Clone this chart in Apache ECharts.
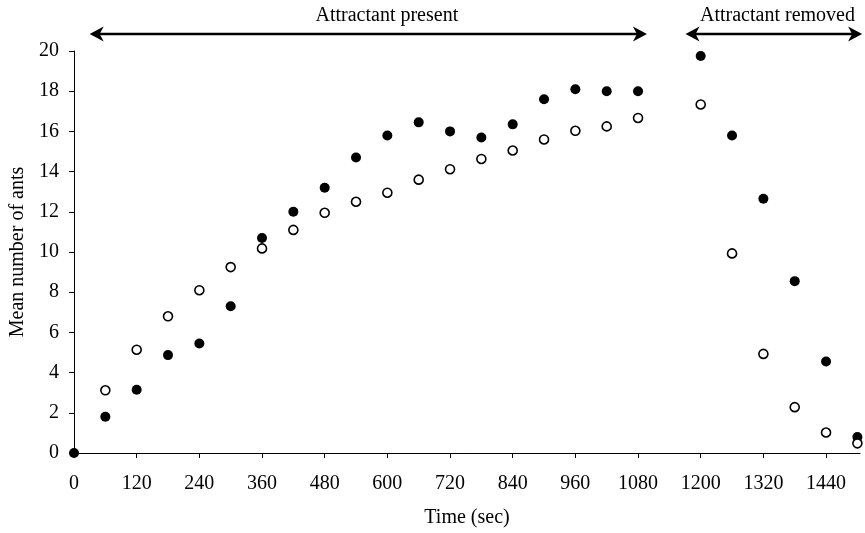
<!DOCTYPE html>
<html>
<head>
<meta charset="utf-8">
<script src="https://cdn.jsdelivr.net/npm/echarts@6/dist/echarts.min.js"></script>
<style>
  html, body { margin: 0; padding: 0; background: #fff; }
  #chart { width: 865px; height: 533px; }
</style>
</head>
<body>
<div id="chart"></div>
<script>
// time (sec) of each observation
const closedTimes = [0, 60, 120, 180, 240, 300, 360, 420, 480, 540, 600, 660, 720, 780, 840, 900, 960, 1020, 1080,
  1200, 1260, 1320, 1380, 1440, 1500];
const closedVals = [0, 1.8, 3.15, 4.87, 5.45, 7.3, 10.7, 12.0, 13.2, 14.7, 15.8, 16.45, 16.0, 15.7, 16.35, 17.6, 18.1, 18.0, 18.0,
  19.75, 15.8, 12.65, 8.55, 4.55, 0.8];
const openTimes = [60, 120, 180, 240, 300, 360, 420, 480, 540, 600, 660, 720, 780, 840, 900, 960, 1020, 1080,
  1200, 1260, 1320, 1380, 1440, 1500];
const openVals = [3.12, 5.14, 6.8, 8.1, 9.25, 10.18, 11.1, 11.95, 12.5, 12.95, 13.6, 14.12, 14.63, 15.05, 15.6, 16.03, 16.25, 16.67,
  17.34, 9.93, 4.93, 2.28, 1.02, 0.48];
const xTicks = [0, 120, 240, 360, 480, 600, 720, 840, 960, 1080, 1200, 1320, 1440];

// phase annotations: [from, to, label x, text]
const phases = [
  [30, 1097, 599, "Attractant present"],
  [1171, 1509, 1347, "Attractant removed"],
];

const font = "Liberation Serif";
const chart = echarts.init(document.getElementById("chart"));

chart.setOption({
  animation: false,
  grid: { left: 71, right: 5, top: 51, bottom: 79 },
  xAxis: {
    type: "value",
    min: 0,
    max: 1505,
    name: "Time (sec)",
    nameLocation: "middle",
    nameGap: 55,
    nameTextStyle: { fontFamily: font, fontSize: 20, color: "#000" },
    axisLine: { lineStyle: { color: "#000", width: 1 } },
    axisTick: { length: 5, lineStyle: { color: "#000" }, customValues: xTicks },
    axisLabel: {
      fontFamily: font, fontSize: 20, color: "#000", margin: 21, customValues: xTicks,
      formatter: (v) => String(v),
    },
    splitLine: { show: false },
  },
  yAxis: {
    type: "value",
    min: 0,
    max: 20,
    interval: 2,
    name: "Mean number of ants",
    nameLocation: "middle",
    nameRotate: 90,
    nameGap: 46,
    nameTextStyle: { fontFamily: font, fontSize: 20, color: "#000" },
    axisLine: { show: true, lineStyle: { color: "#000", width: 1 } },
    axisTick: { show: true, length: 5, lineStyle: { color: "#000" } },
    axisLabel: { fontFamily: font, fontSize: 20, color: "#000", margin: 15 },
    splitLine: { show: false },
  },
  series: [
    {
      name: "closed",
      type: "scatter",
      symbol: "circle",
      symbolSize: 10,
      itemStyle: { color: "#000", opacity: 1 },
      data: closedTimes.map((t, i) => [t, closedVals[i]]),
      clip: false,
    },
    {
      name: "open",
      type: "scatter",
      symbol: "circle",
      symbolSize: 9,
      itemStyle: { color: "#fff", borderColor: "#000", borderWidth: 1.6, opacity: 1 },
      data: openTimes.map((t, i) => [t, openVals[i]]),
      clip: false,
    },
  ],
});

// arrows above the plot
const px = (v) => chart.convertToPixel({ xAxisIndex: 0 }, v);
const head = (x, y, dir) => ({
  type: "polygon",
  shape: { points: [[x, y], [x - dir * 14, y - 7.5], [x - dir * 10, y], [x - dir * 14, y + 7.5]] },
  style: { fill: "#000" },
});
let graphic = [];
phases.forEach(([a, b, c, txt]) => {
  let x1 = px(a), x2 = px(b), y = 34;
  graphic.push(
    { type: "line", shape: { x1: x1 + 8, y1: y, x2: x2 - 8, y2: y }, style: { stroke: "#000", lineWidth: 2.5 } },
    head(x1, y, -1),
    head(x2, y, 1),
    {
      type: "text",
      x: px(c),
      y: 16,
      style: { text: txt, fontFamily: font, fontSize: 20, fill: "#000", align: "center", verticalAlign: "middle" },
    }
  );
});
chart.setOption({ graphic });
</script>
</body>
</html>
